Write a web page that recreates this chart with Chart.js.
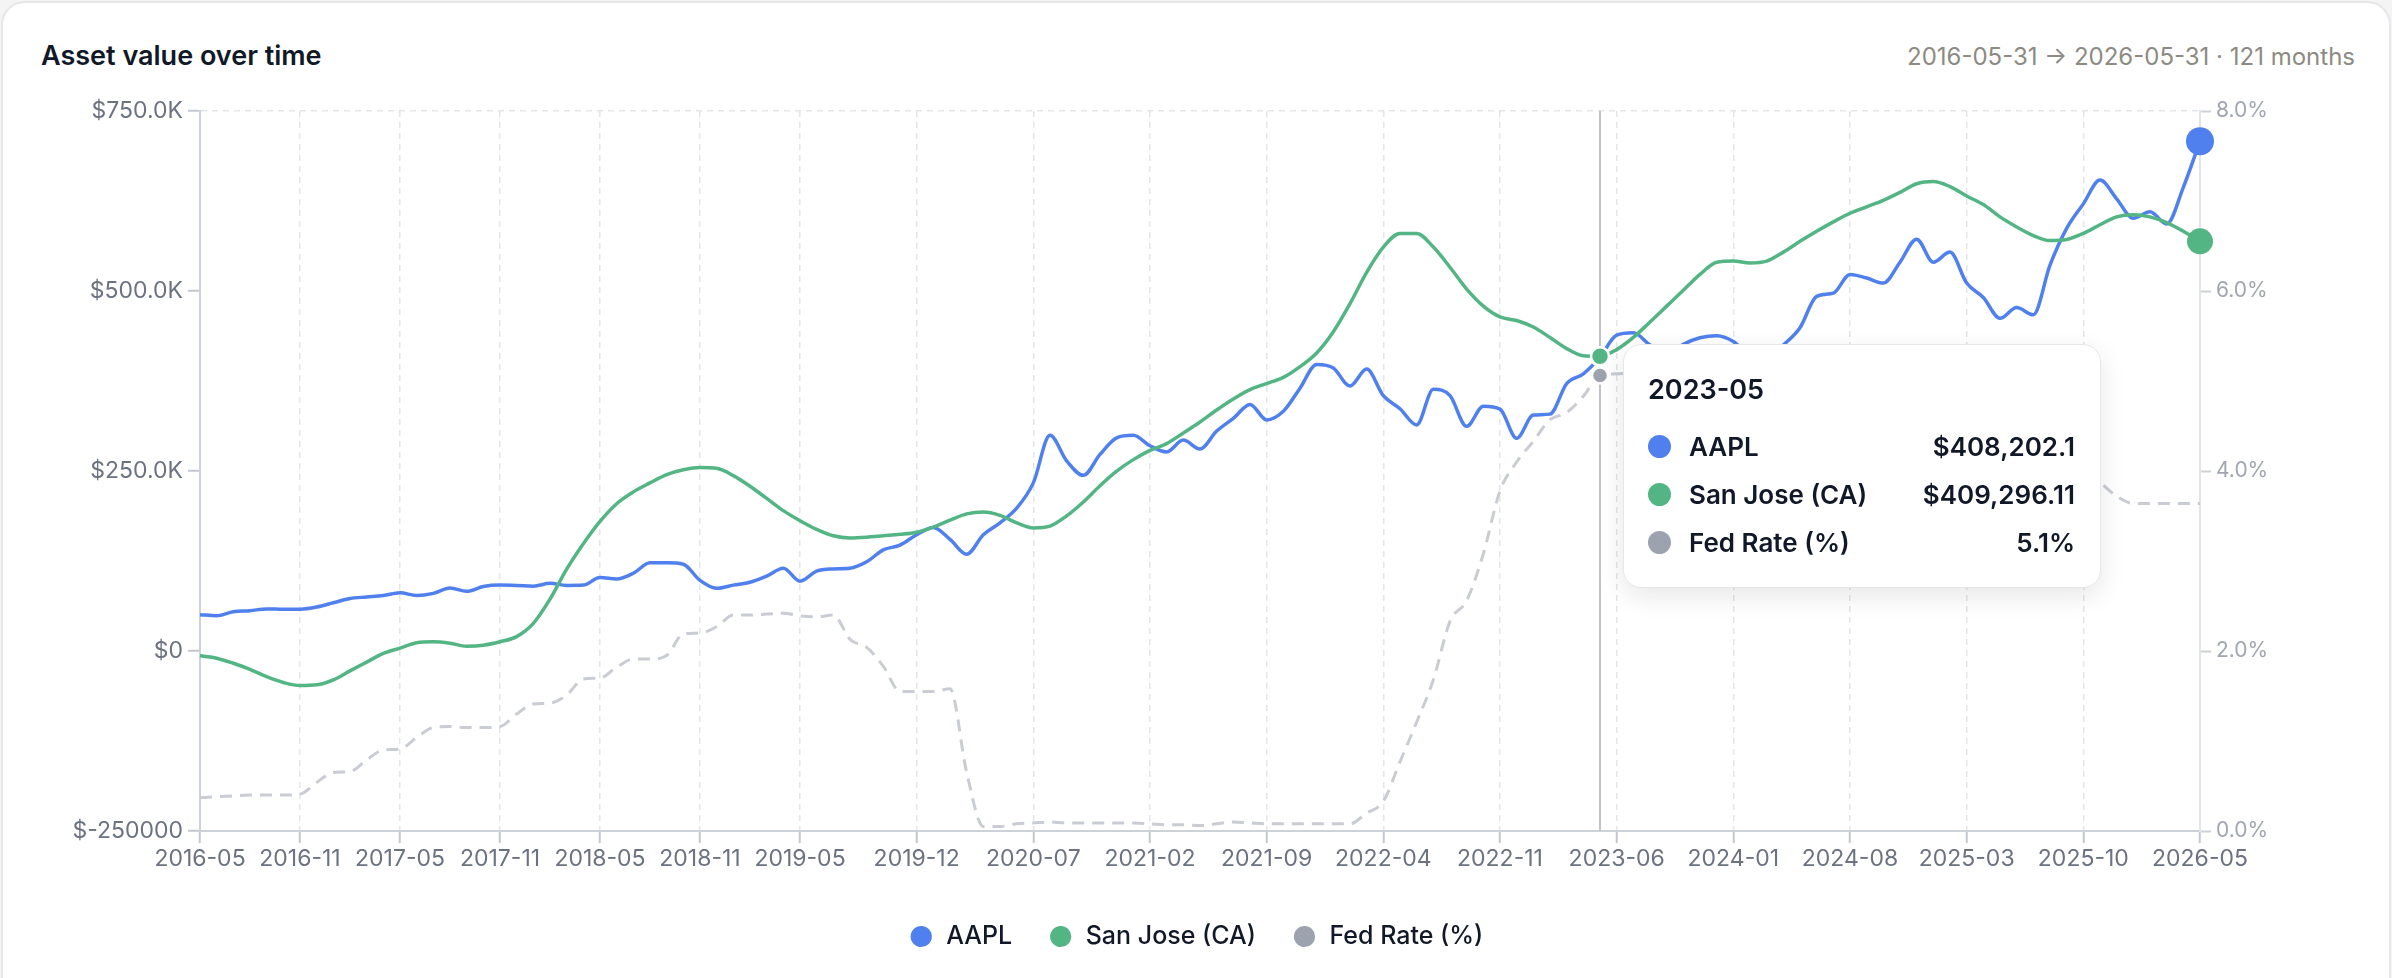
<!DOCTYPE html>
<html>
<head>
<meta charset="utf-8">
<script src="https://cdn.jsdelivr.net/npm/chart.js@4.4.1/dist/chart.umd.min.js"></script>
<style>
  html, body { margin: 0; padding: 0; background: #f4f4f5; }
  body { width: 2392px; height: 978px; overflow: hidden; position: relative; font-family: Inter, "Noto Sans", sans-serif; }
  .card { position: absolute; left: 1px; top: 1px; width: 2386px; height: 1100px; background: #fff; border: 2px solid #e7e7ea; border-radius: 24px; }
  .title { position: absolute; left: 41px; top: 37px; font-size: 27px; line-height: 38px; font-weight: 600; color: #111827; }
  .range { position: absolute; right: 37px; top: 38px; font-size: 24px; line-height: 38px; color: #8d8a83; }
  canvas { position: absolute; left: 0; top: 0; }
  #tip { position: absolute; display: none; box-sizing: border-box; width: 478px; padding: 24px 25px 21px 24px;
         background: #fff; border: 1.5px solid #e5e7eb; border-radius: 18px; box-shadow: 0 8px 26px rgba(17, 24, 39, 0.10);
         color: #111827; pointer-events: none; }
  #tip .tt-title { font-size: 27px; line-height: 42px; font-weight: 600; margin-bottom: 11px; }
  #tip .row { display: flex; align-items: center; height: 48px; font-size: 26px; font-weight: 600; }
  #tip .dot { width: 23px; height: 23px; border-radius: 50%; margin-right: 18px; flex: none; }
  #tip .val { margin-left: auto; }
</style>
</head>
<body>
<div class="card"></div>
<div class="title">Asset value over time</div>
<div class="range">2016-05-31 → 2026-05-31 · 121 months</div>
<canvas id="chart" width="2392" height="978"></canvas>
<div id="tip"></div>
<script>
// monthly categories, 2016-05 .. 2026-05
const months = [];
for (let i = 0; i < 121; i++) {
  const d = new Date(2016, 4 + i, 1);
  months.push(d.getFullYear() + "-" + String(d.getMonth() + 1).padStart(2, "0"));
}

const xTickLabels = ["2016-05", "2016-11", "2017-05", "2017-11", "2018-05", "2018-11", "2019-05",
  "2019-12", "2020-07", "2021-02", "2021-09", "2022-04", "2022-11", "2023-06", "2024-01",
  "2024-08", "2025-03", "2025-10", "2026-05"];

const aaplValues = [
  50500, 49000, 54500, 56000, 58500, 58000, 58000, 61000, 67000, 73000,
  75000, 77000, 81000, 77000, 80000, 87500, 83000, 89500, 91500, 91000,
  90000, 94000, 91000, 91500, 102000, 100000, 108000, 122500, 122500, 120500,
  98000, 87000, 91500, 95500, 104000, 115000, 97000, 111000, 114000, 115000,
  124000, 140500, 147000, 161500, 171500, 155000, 134500, 161500, 178000, 198500,
  233500, 299500, 264000, 244000, 273000, 296000, 299500, 285000, 276500, 293000,
  280500, 305500, 323000, 342500, 321000, 333000, 365000, 398000, 393000, 368000,
  391500, 354600, 336500, 314000, 363500, 354600, 312000, 340000, 336000, 295400,
  327700, 329000, 371500, 385000, 408202.1, 438700, 442000, 425000, 412000, 426000,
  435000, 438000, 430000, 410000, 405000, 425000, 449000, 492600, 497000, 523000,
  518000, 511000, 540000, 572000, 540000, 554000, 511000, 491000, 462000, 477000,
  467000, 536000, 587000, 621000, 654000, 628000, 601000, 610000, 593000, 644000,
  708000
];

const sanJoseValues = [
  -6700, -10000, -17000, -25500, -35700, -43700, -48000, -47000, -40000, -27600,
  -15500, -3400, 4000, 11400, 12800, 10800, 6700, 8000, 12800, 20000,
  38400, 72000, 113700, 149000, 180000, 204600, 221000, 233500, 245000, 251700,
  255000, 253700, 243600, 228800, 212000, 195000, 181000, 169000, 160000, 157000,
  158000, 160000, 162000, 165000, 172000, 181700, 190400, 193000, 188400, 178000,
  171000, 173500, 187700, 207000, 229500, 249700, 265800, 278600, 288000, 302800,
  318000, 334700, 350000, 363000, 371500, 380000, 395000, 414000, 443500, 482500,
  526000, 561000, 580000, 580000, 561000, 533000, 502600, 479000, 464000, 459000,
  450000, 435500, 420000, 410000, 409296.11, 418600, 435500, 457000, 479000, 501000,
  523000, 540000, 541600, 539000, 541600, 554000, 569000, 583000, 596000, 608000,
  617000, 626000, 637000, 649000, 652000, 645000, 632000, 620000, 603000, 589000,
  577000, 570000, 571500, 580000, 592000, 603000, 606000, 603000, 595000, 583000,
  569000
];

const fedRate = [
  0.37, 0.38, 0.39, 0.40, 0.40, 0.40, 0.41, 0.54, 0.65, 0.66,
  0.79, 0.90, 0.91, 1.04, 1.15, 1.16, 1.15, 1.15, 1.16, 1.30,
  1.41, 1.42, 1.51, 1.69, 1.70, 1.82, 1.91, 1.91, 1.95, 2.19,
  2.20, 2.27, 2.40, 2.40, 2.41, 2.42, 2.39, 2.38, 2.40, 2.13,
  2.04, 1.83, 1.55, 1.55, 1.55, 1.58, 0.65, 0.05, 0.05, 0.08,
  0.09, 0.10, 0.09, 0.09, 0.09, 0.09, 0.09, 0.08, 0.07, 0.07,
  0.06, 0.08, 0.10, 0.09, 0.08, 0.08, 0.08, 0.08, 0.08, 0.08,
  0.20, 0.33, 0.77, 1.21, 1.68, 2.33, 2.56, 3.08, 3.78, 4.10,
  4.33, 4.57, 4.65, 4.83, 5.06, 5.08, 5.12, 5.33, 5.33, 5.33,
  5.33, 5.33, 5.33, 5.33, 5.33, 5.33, 5.33, 5.33, 5.33, 5.33,
  5.13, 4.83, 4.64, 4.48, 4.33, 4.33, 4.33, 4.33, 4.33, 4.33,
  4.33, 4.33, 4.22, 4.09, 3.88, 3.72, 3.64, 3.64, 3.64, 3.64,
  3.64
];

const hoverMonth = "2023-05";

const BLUE = "#4f80ee";
const GREEN = "#52b583";
const GRAY_DOT = "#9ca3af";
const GRAY_LINE = "#c9ccd3";

Chart.defaults.font.family = "Inter, 'Noto Sans', sans-serif";

const xTickSet = new Set(xTickLabels);
const isLabeled = i => xTickSet.has(months[i]);
// only the last point gets a dot
const endDot = r => months.map((m, i) => (i === months.length - 1 ? r : 0));

function fmtMoney(v) {
  if (v >= 1000) return "$" + (v / 1000).toFixed(1) + "K";
  return "$" + v;
}

function fmtValue(datasetIndex, v) {
  if (datasetIndex === 2) return v.toFixed(1) + "%";
  return "$" + v.toLocaleString("en-US", { maximumFractionDigits: 2 });
}

function externalTooltip({ chart, tooltip }) {
  const el = document.getElementById("tip");
  if (tooltip.opacity === 0 || !tooltip.dataPoints || !tooltip.dataPoints.length) {
    el.style.display = "none";
    return;
  }
  const pts = tooltip.dataPoints.slice().sort((a, b) => a.datasetIndex - b.datasetIndex);
  let html = '<div class="tt-title">' + tooltip.title[0] + "</div>";
  pts.forEach(p => {
    const color = p.datasetIndex === 2 ? GRAY_DOT : p.dataset.backgroundColor;
    html += '<div class="row"><span class="dot" style="background:' + color + '"></span>' +
      "<span>" + p.dataset.label + '</span><span class="val">' + fmtValue(p.datasetIndex, p.raw) + "</span></div>";
  });
  el.innerHTML = html;
  const minY = Math.min(...pts.map(p => p.element.y));
  el.style.left = (chart.canvas.offsetLeft + tooltip.caretX + 23) + "px";
  el.style.top = (chart.canvas.offsetTop + minY - 12) + "px";
  el.style.display = "block";
}

const hoverLine = {
  id: "hoverLine",
  beforeDatasetsDraw(chart) {
    const active = chart.tooltip ? chart.tooltip.getActiveElements() : [];
    if (!active.length) return;
    const x = active[0].element.x;
    const { top, bottom } = chart.chartArea;
    const ctx = chart.ctx;
    ctx.save();
    ctx.strokeStyle = "#bfc3ca";
    ctx.lineWidth = 2;
    ctx.beginPath();
    ctx.moveTo(x, top);
    ctx.lineTo(x, bottom);
    ctx.stroke();
    ctx.restore();
  }
};

const chart = new Chart(document.getElementById("chart").getContext("2d"), {
  type: "line",
  data: {
    labels: months,
    datasets: [
      {
        label: "AAPL",
        data: aaplValues,
        yAxisID: "y",
        borderColor: BLUE,
        backgroundColor: BLUE,
        borderWidth: 3.5,
        cubicInterpolationMode: "monotone",
        pointRadius: endDot(14),
        pointBorderWidth: 0,
        pointHoverRadius: 9,
        pointHoverBorderWidth: 2.5,
        pointHoverBorderColor: "#fff",
        pointHoverBackgroundColor: BLUE,
        clip: false,
        order: 2
      },
      {
        label: "San Jose (CA)",
        data: sanJoseValues,
        yAxisID: "y",
        borderColor: GREEN,
        backgroundColor: GREEN,
        borderWidth: 3.5,
        cubicInterpolationMode: "monotone",
        pointRadius: endDot(13),
        pointBorderWidth: 0,
        pointHoverRadius: 9,
        pointHoverBorderWidth: 2.5,
        pointHoverBorderColor: "#fff",
        pointHoverBackgroundColor: GREEN,
        clip: false,
        order: 1
      },
      {
        label: "Fed Rate (%)",
        data: fedRate,
        yAxisID: "y1",
        borderColor: GRAY_LINE,
        backgroundColor: GRAY_DOT,
        borderWidth: 3,
        borderDash: [12, 8],
        cubicInterpolationMode: "monotone",
        pointRadius: 0,
        pointHoverRadius: 8,
        pointHoverBorderWidth: 2.5,
        pointHoverBorderColor: "#fff",
        pointHoverBackgroundColor: GRAY_DOT,
        order: 3
      }
    ]
  },
  options: {
    responsive: false,
    devicePixelRatio: 1,
    animation: false,
    layout: { padding: { top: 111, bottom: 19, left: 0, right: 0 } },
    interaction: { mode: "index", intersect: false },
    scales: {
      x: {
        ticks: {
          autoSkip: false, maxRotation: 0, minRotation: 0, padding: 2,
          color: "#6b7280", font: { size: 23 },
          callback(value) {
            const l = this.getLabelForValue(value);
            return xTickSet.has(l) ? l : "";
          }
        },
        grid: {
          color: c => (isLabeled(c.index) ? "#e3e5e9" : "transparent"),
          lineWidth: 1.5,
          tickColor: c => (isLabeled(c.index) ? "#c3c7cf" : "transparent"),
          tickLength: 12,
          tickWidth: 2
        },
        border: { color: "#cdd1d8", width: 2, dash: [6, 5] },
        afterFit(scale) { scale.height = 57; }
      },
      y: {
        position: "left",
        min: -250000,
        max: 750000,
        ticks: { stepSize: 250000, padding: 5, color: "#6b7280", font: { size: 23 }, callback: fmtMoney },
        grid: {
          color: c => (c.tick && c.tick.value === 750000 ? "#e3e5e9" : "transparent"),
          lineWidth: 1.5,
          tickColor: "#c3c7cf",
          tickLength: 12,
          tickWidth: 2
        },
        border: { color: "#cdd1d8", width: 2, dash: [6, 5] },
        afterFit(scale) { scale.width = 200; }
      },
      y1: {
        position: "right",
        min: 0,
        max: 8,
        ticks: { stepSize: 2, padding: 5, color: "#a0a5af", font: { size: 21 }, callback: v => v.toFixed(1) + "%" },
        grid: { drawOnChartArea: false, tickColor: "#cdd1d8", tickLength: 11, tickWidth: 2 },
        border: { color: "#e2e4e9", width: 2 },
        afterFit(scale) { scale.width = 192; }
      }
    },
    plugins: {
      legend: {
        position: "bottom",
        labels: {
          usePointStyle: true,
          pointStyle: "circle",
          boxWidth: 25,
          boxHeight: 15,
          padding: 36,
          color: "#111827",
          font: { size: 25, weight: 500 },
          sort: (a, b) => a.datasetIndex - b.datasetIndex,
          generateLabels(chart) {
            return Chart.defaults.plugins.legend.labels.generateLabels(chart).map(item => {
              const ds = chart.data.datasets[item.datasetIndex];
              item.fillStyle = ds.backgroundColor;
              item.strokeStyle = ds.backgroundColor;
              item.lineWidth = 0;
              item.lineDash = [];
              return item;
            });
          }
        }
      },
      tooltip: { enabled: false, external: externalTooltip }
    }
  },
  plugins: [hoverLine]
});

// show the hover state for 2023-05
const idx = months.indexOf(hoverMonth);
const active = chart.data.datasets.map((d, i) => ({ datasetIndex: i, index: idx }));
chart.setActiveElements(active);
chart.tooltip.setActiveElements(active, { x: 0, y: 0 });
chart.update();
</script>
</body>
</html>
